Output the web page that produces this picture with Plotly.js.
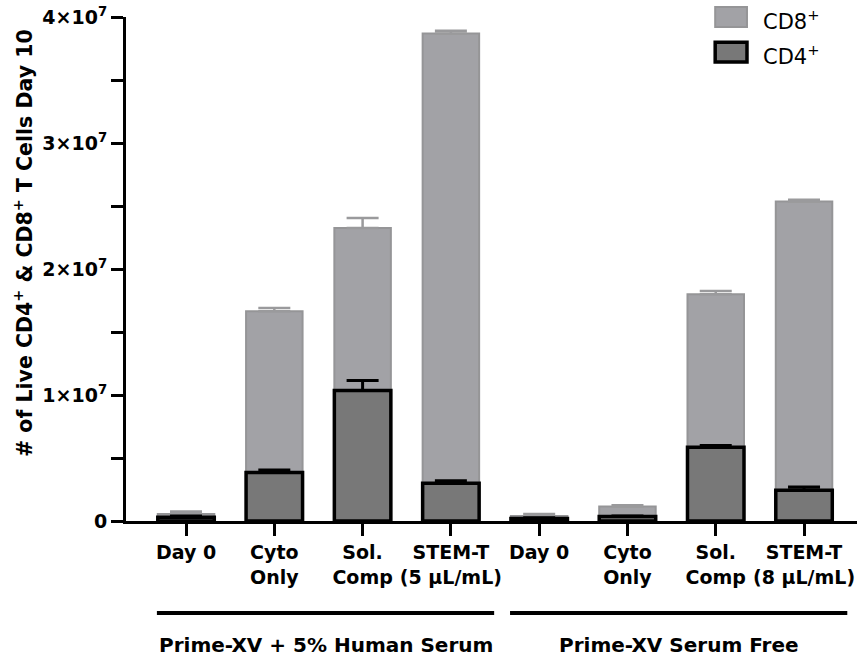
<!DOCTYPE html>
<html>
<head>
<meta charset="utf-8">
<script src="https://cdn.plot.ly/plotly-3.0.1.min.js"></script>
<style>html,body{margin:0;padding:0;background:#fff;}#chart{width:857px;height:657px;}</style>
</head>
<body>
<div id="chart"></div>
<script>
// ---- data ----
var categoryLabels = ["Day 0", "Cyto<br>Only", "Sol.<br>Comp", "STEM-T<br>(5 µL/mL)",
                      "Day 0", "Cyto<br>Only", "Sol.<br>Comp", "STEM-T<br>(8 µL/mL)"];
var cd4Values = [3.0e5, 3.85e6, 1.035e7, 3.0e6, 2.0e5, 3.5e5, 5.85e6, 2.45e6];
var cd4Errors = [1.0e5, 2.0e5, 8.0e5, 2.0e5, 5.0e4, 5.0e4, 1.5e5, 2.5e5];
var cd8Values = [2.5e5, 1.28e7, 1.29e7, 3.57e7, 2.0e5, 8.0e5, 1.215e7, 2.29e7];
var cd8Errors = [2.0e5, 2.5e5, 8.0e5, 2.0e5, 1.5e5, 1.0e5, 2.5e5, 1.5e5];
var yTickValues = [0, 1e7, 2e7, 3e7, 4e7];
var yTickLabels = ["0", "1×10<sup>7</sup>", "2×10<sup>7</sup>", "3×10<sup>7</sup>", "4×10<sup>7</sup>"];
var yMinorTickValues = [5e6, 1.5e7, 2.5e7, 3.5e7];
var yTitle = "# of Live CD4<sup>+</sup> & CD8<sup>+</sup> T Cells Day 10";
var groupNames = ["Prime-XV + 5% Human Serum", "Prime-XV Serum Free"];
var groupStart = [0, 4];
var groupEnd = [3, 7];
var seriesNames = ["CD8<sup>+</sup>", "CD4<sup>+</sup>"];

// ---- chart ----
var xPos = categoryLabels.map(function (_, i) { return i; });
var zeros = cd4Values.map(function () { return 0; });
var FONT = "DejaVu Sans, Verdana, sans-serif";

var traceCD8 = {
  type: "bar", name: seriesNames[0], x: xPos, y: cd8Values, base: cd4Values,
  width: 0.64,
  marker: { color: "#a2a2a6", line: { color: "#959597", width: 2 } },
  error_y: { type: "data", symmetric: false, array: cd8Errors, arrayminus: zeros,
             color: "#9a9a9c", thickness: 2.5, width: 16 },
  showlegend: false, hoverinfo: "skip"
};
var traceCD4 = {
  type: "bar", name: seriesNames[1], x: xPos, y: cd4Values,
  width: 0.64,
  marker: { color: "#787878", line: { color: "#000", width: 3.5 } },
  error_y: { type: "data", symmetric: false, array: cd4Errors, arrayminus: zeros,
             color: "#000", thickness: 3, width: 16 },
  showlegend: false, hoverinfo: "skip"
};

var shapes = [], annotations = [];
for (var g = 0; g < groupNames.length; g++) {
  var x0 = groupStart[g] - 0.33, x1 = groupEnd[g] + 0.49;
  shapes.push({ type: "line", xref: "x", yref: "paper", x0: x0, x1: x1, y0: -0.1825, y1: -0.1825,
                line: { color: "#000", width: 4 } });
  annotations.push({ xref: "x", yref: "paper", x: (x0 + x1) / 2, y: -0.246, text: "<b>" + groupNames[g] + "</b>",
                     showarrow: false, xanchor: "center", yanchor: "middle",
                     font: { family: FONT, size: 20, color: "#000" } });
}
// y-axis title (placed like the reference, slightly above the axis centre)
annotations.push({ xref: "paper", yref: "paper", x: -0.1395, y: 0.5516, textangle: -90,
                   text: "<b>" + yTitle + "</b>", showarrow: false, xanchor: "center", yanchor: "middle",
                   font: { family: FONT, size: 20.5, color: "#000" } });
// legend drawn as swatches + labels
var legendFill = ["#a2a2a6", "#787878"];
var legendLine = [{ color: "#959597", width: 2 }, { color: "#000", width: 3.5 }];
var legendY = [[0.980, 1.0198], [0.9107, 0.950]];
for (var s = 0; s < seriesNames.length; s++) {
  shapes.push({ type: "rect", xref: "paper", yref: "paper", x0: 0.806, x1: 0.8495,
                y0: legendY[s][0], y1: legendY[s][1], fillcolor: legendFill[s], line: legendLine[s] });
  annotations.push({ xref: "paper", yref: "paper", x: 0.869, y: (legendY[s][0] + legendY[s][1]) / 2 - 0.006,
                     text: seriesNames[s], showarrow: false, xanchor: "left", yanchor: "middle",
                     font: { family: FONT, size: 21, color: "#000" } });
}

var layout = {
  width: 857, height: 657,
  margin: { l: 126, r: 0, t: 17, b: 136 },
  paper_bgcolor: "#fff", plot_bgcolor: "#fff",
  barmode: "overlay",
  showlegend: false,
  font: { family: FONT, color: "#000" },
  xaxis: {
    range: [-0.68, 7.6], showgrid: false, zeroline: false,
    showline: true, linecolor: "#000", linewidth: 3,
    ticks: "outside", ticklen: 12, tickwidth: 3, tickcolor: "#000",
    tickmode: "array", tickvals: xPos,
    ticktext: categoryLabels.map(function (t) { return "<b>" + t.replace("<br>", "</b><br><b>") + "</b>"; }),
    tickfont: { family: FONT, size: 19, color: "#000" }, tickangle: 0,
    automargin: false, fixedrange: true
  },
  yaxis: {
    range: [0, 4e7], showgrid: false, zeroline: false,
    showline: true, linecolor: "#000", linewidth: 3,
    ticks: "outside", ticklen: 12, tickwidth: 3, tickcolor: "#000",
    tickmode: "array", tickvals: yTickValues,
    ticktext: yTickLabels.map(function (t) { return "<b>" + t + "</b>"; }),
    tickfont: { family: FONT, size: 19, color: "#000" },
    minor: { tickmode: "array", tickvals: yMinorTickValues, ticks: "outside", ticklen: 12, tickwidth: 3, tickcolor: "#000", showgrid: false },
    automargin: false, fixedrange: true
  },
  shapes: shapes,
  annotations: annotations
};

Plotly.newPlot("chart", [traceCD8, traceCD4], layout, { displayModeBar: false, staticPlot: true });
</script>
</body>
</html>
